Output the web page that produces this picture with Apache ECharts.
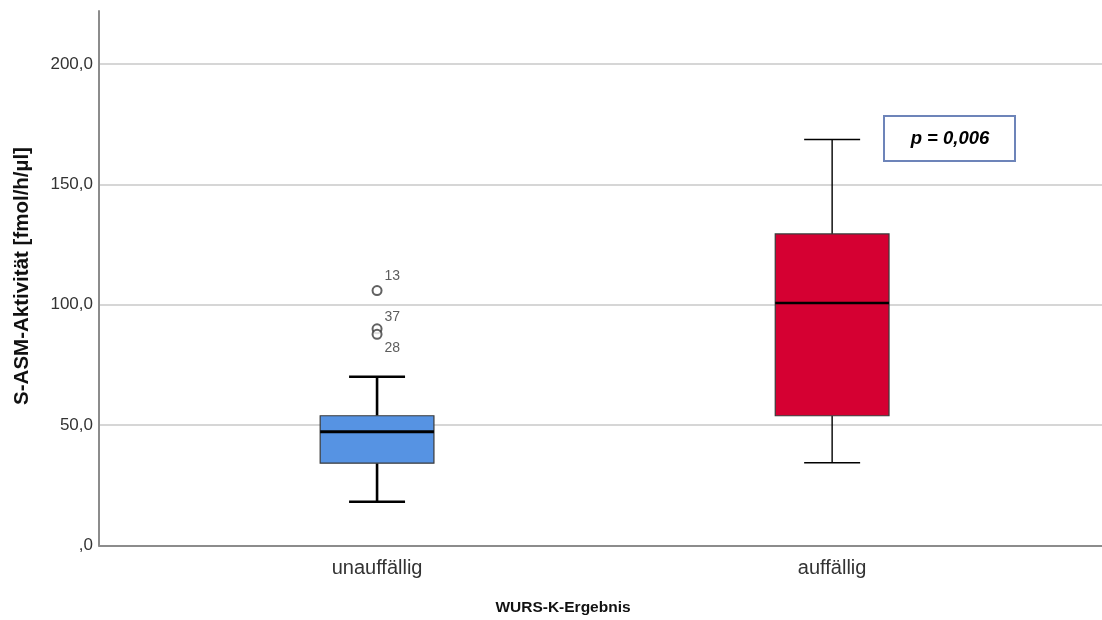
<!DOCTYPE html>
<html>
<head>
<meta charset="utf-8">
<script src="https://cdn.jsdelivr.net/npm/echarts@6/dist/echarts.min.js"></script>
<style>
  html, body { margin: 0; padding: 0; background: #fff; }
  #chart { width: 1102px; height: 620px; }
</style>
</head>
<body>
<div id="chart"></div>
<script>
// Group labels (WURS-K result) and box statistics of S-ASM activity
const categories = ['unauffällig', 'auffällig'];
const lowerWhisker = [18.2, 34.4];
const quartile1 = [34.2, 53.9];
const medians = [47.2, 100.7];
const quartile3 = [53.9, 129.4];
const upperWhisker = [70.1, 168.6];

// Outliers (case numbers) in the first group
const outlierGroup = [0, 0, 0];
const outlierValues = [105.9, 90.0, 87.7];
const outlierCases = ['13', '37', '28'];

// Value axis ticks
const yTicks = [0, 50, 100, 150, 200];
const pValueText = 'p = 0,006';

// Styling per group
const boxColors = ['#5693e3', '#d50032'];
const whiskerWidths = [2.6, 1.4];
const medianWidths = [3, 2.6];
const outlierLabelOffsets = [[0, -14], [0, -12], [0, 14]];

const FONT = '"Liberation Sans", Arial, sans-serif';

function fmtDe(v) {
  let s = v.toFixed(1).replace('.', ',');
  if (s.startsWith('0,')) s = s.slice(1);
  return s;
}

const boxData = categories.map((c, i) => [
  i, lowerWhisker[i], quartile1[i], medians[i], quartile3[i], upperWhisker[i]
]);

const outlierData = outlierValues.map((v, i) => ({
  value: [outlierGroup[i], v, outlierCases[i]],
  label: { offset: outlierLabelOffsets[i] }
}));

const chart = echarts.init(document.getElementById('chart'), null, { renderer: 'canvas' });

chart.setOption({
  backgroundColor: '#ffffff',
  animation: false,
  grid: { left: 99, right: 0, top: 11, bottom: 74.5, containLabel: false },
  xAxis: {
    type: 'value',
    min: -0.611,
    max: 1.593,
    axisLine: { show: true, onZero: false, lineStyle: { color: '#8c8c8c', width: 2 } },
    axisTick: { show: false },
    splitLine: { show: false },
    axisLabel: {
      customValues: [0, 1],
      formatter: v => categories[Math.round(v)],
      fontFamily: FONT,
      fontSize: 20,
      color: '#333',
      margin: 13
    }
  },
  yAxis: {
    type: 'value',
    min: 0,
    max: 222,
    interval: 50,
    axisLine: { show: true, onZero: false, lineStyle: { color: '#8c8c8c', width: 2 } },
    axisTick: { show: false },
    splitLine: {
      show: true,
      showMinLine: false,
      showMaxLine: false,
      lineStyle: { color: '#c8c8c8', width: 1.5 }
    },
    axisLabel: {
      customValues: yTicks,
      formatter: v => fmtDe(v),
      fontFamily: FONT,
      fontSize: 17,
      color: '#333',
      margin: 6
    }
  },
  series: [
    {
      type: 'custom',
      z: 3,
      data: boxData,
      renderItem: function (params, api) {
        const i = params.dataIndex;
        const x = api.value(0);
        const hw = api.size([0.125, 0])[0];
        const cw = api.size([0.0615, 0])[0];
        const pLow = api.coord([x, api.value(1)]);
        const pQ1 = api.coord([x, api.value(2)]);
        const pMed = api.coord([x, api.value(3)]);
        const pQ3 = api.coord([x, api.value(4)]);
        const pHigh = api.coord([x, api.value(5)]);
        const cx = pMed[0];
        const wStyle = { stroke: '#000', lineWidth: whiskerWidths[i] };
        return {
          type: 'group',
          children: [
            { type: 'line', shape: { x1: cx, y1: pQ3[1], x2: cx, y2: pHigh[1] }, style: wStyle },
            { type: 'line', shape: { x1: cx, y1: pQ1[1], x2: cx, y2: pLow[1] }, style: wStyle },
            { type: 'line', shape: { x1: cx - cw, y1: pHigh[1], x2: cx + cw, y2: pHigh[1] }, style: wStyle },
            { type: 'line', shape: { x1: cx - cw, y1: pLow[1], x2: cx + cw, y2: pLow[1] }, style: wStyle },
            {
              type: 'rect',
              shape: { x: cx - hw, y: pQ3[1], width: 2 * hw, height: pQ1[1] - pQ3[1] },
              style: { fill: boxColors[i], stroke: '#3a3a3a', lineWidth: 1.2 }
            },
            {
              type: 'line',
              shape: { x1: cx - hw, y1: pMed[1], x2: cx + hw, y2: pMed[1] },
              style: { stroke: '#000', lineWidth: medianWidths[i] }
            }
          ]
        };
      }
    },
    {
      type: 'scatter',
      z: 4,
      data: outlierData,
      symbol: 'emptyCircle',
      symbolSize: 9,
      itemStyle: { color: '#3a3a3a', borderColor: '#3a3a3a', borderWidth: 1.4 },
      label: {
        show: true,
        position: 'right',
        distance: 2,
        formatter: p => p.value[2],
        fontFamily: FONT,
        fontSize: 14,
        color: '#333'
      }
    }
  ],
  graphic: [
    {
      type: 'text',
      rotation: Math.PI / 2,
      x: 22,
      y: 276,
      style: {
        text: 'S-ASM-Aktivität [fmol/h/µl]',
        font: 'bold 20.5px ' + FONT,
        fill: '#111',
        textAlign: 'center',
        textVerticalAlign: 'middle'
      }
    },
    {
      type: 'text',
      x: 563,
      y: 608,
      style: {
        text: 'WURS-K-Ergebnis',
        font: 'bold 15.5px ' + FONT,
        fill: '#111',
        textAlign: 'center',
        textVerticalAlign: 'middle'
      }
    },
    {
      type: 'group',
      x: 884,
      y: 116,
      children: [
        {
          type: 'rect',
          shape: { x: 0, y: 0, width: 131, height: 45 },
          style: { fill: '#fff', stroke: '#6d84b9', lineWidth: 2 }
        },
        {
          type: 'text',
          x: 66,
          y: 23,
          style: {
            text: pValueText,
            font: 'italic bold 18.5px ' + FONT,
            fill: '#000',
            textAlign: 'center',
            textVerticalAlign: 'middle'
          }
        }
      ]
    }
  ]
});
</script>
</body>
</html>
